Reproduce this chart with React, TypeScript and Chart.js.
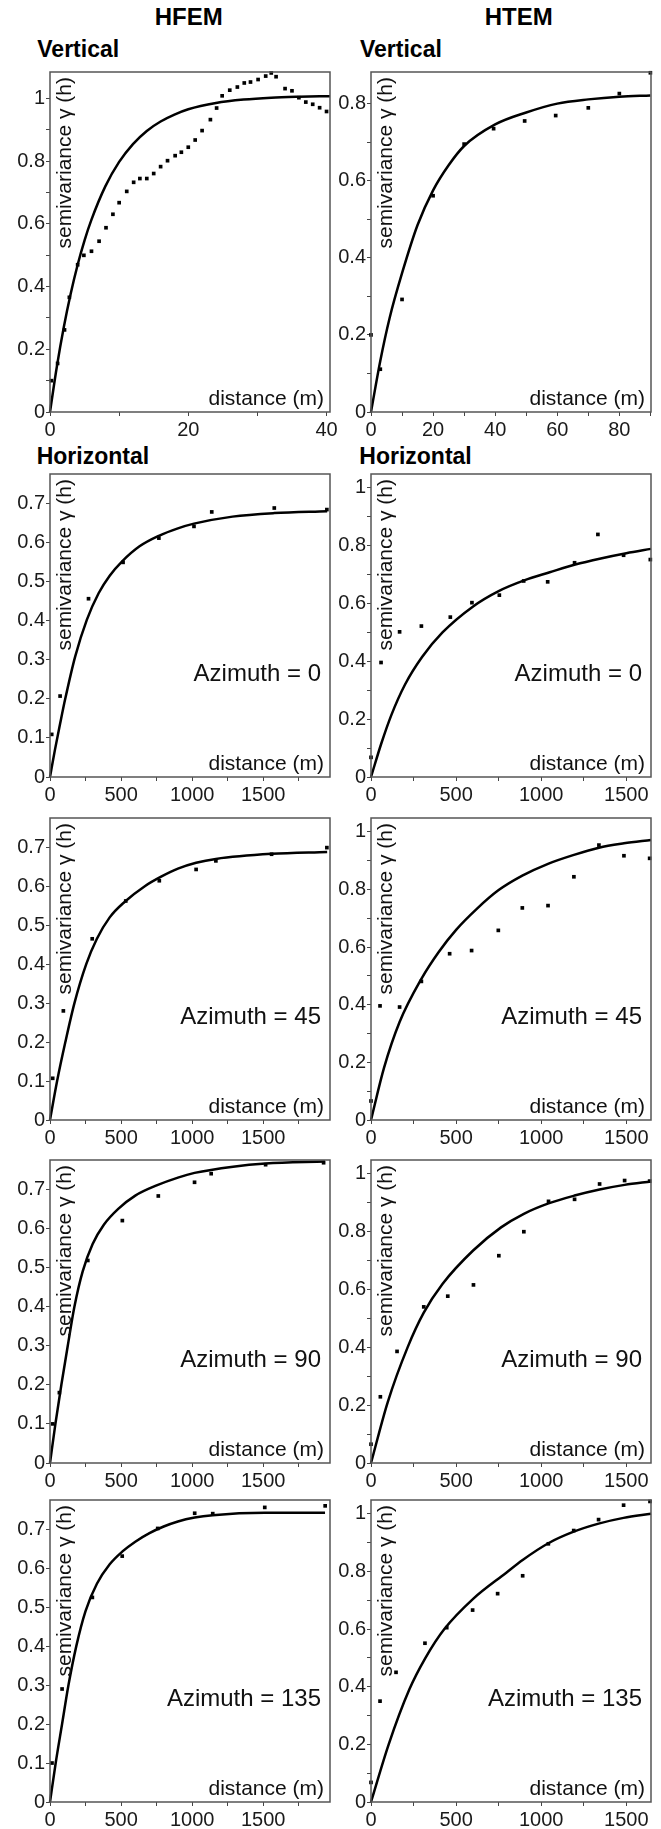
import React, { useEffect, useRef } from 'react';
import { Chart, registerables } from 'chart.js';
Chart.register(...registerables);

const FONT = "'Liberation Sans', Arial, Helvetica, sans-serif";

// ---------- HFEM, vertical ----------
const hfemVertLag = [0.2, 1.1, 2.1, 2.8, 4.0, 4.9, 6.0, 7.1, 8.1, 9.1, 10.0, 11.1, 12.1, 13.0, 14.0, 15.0, 16.0, 17.0, 18.1, 19.0, 20.0, 21.0, 22.0, 23.2, 24.1, 24.9, 26.0, 27.1, 28.1, 29.0, 30.1, 31.2, 32.0, 32.7, 34.0, 35.0, 36.0, 37.0, 38.0, 39.0, 40.0];
const hfemVertGamma = [0.10, 0.155, 0.262, 0.366, 0.47, 0.50, 0.513, 0.545, 0.588, 0.631, 0.668, 0.704, 0.733, 0.745, 0.745, 0.761, 0.783, 0.802, 0.818, 0.829, 0.845, 0.868, 0.898, 0.933, 0.970, 1.009, 1.027, 1.037, 1.05, 1.053, 1.061, 1.072, 1.082, 1.07, 1.032, 1.025, 1.003, 0.989, 0.982, 0.971, 0.959];
const hfemVertModelLag = [0, 1, 2, 3, 4, 5, 6, 8, 10, 12, 14, 16, 18, 20, 24, 28, 32, 36, 40.5];
const hfemVertModel = [0, 0.146, 0.271, 0.378, 0.47, 0.548, 0.614, 0.72, 0.798, 0.855, 0.897, 0.927, 0.949, 0.966, 0.986, 0.997, 1.003, 1.006, 1.008];

// ---------- HTEM, vertical ----------
const htemVertLag = [0, 3, 10, 20, 30, 39.5, 49.5, 59.5, 70, 80, 90];
const htemVertGamma = [0.2, 0.111, 0.292, 0.561, 0.695, 0.735, 0.755, 0.769, 0.789, 0.826, 0.88];
const htemVertModelLag = [0, 3, 6, 10, 15, 20, 25, 30, 40, 50, 60, 70, 80, 90];
const htemVertModel = [0, 0.133, 0.244, 0.36, 0.485, 0.575, 0.64, 0.69, 0.746, 0.777, 0.8, 0.811, 0.818, 0.821];

// ---------- HFEM, horizontal ----------
const hfemAz0Lag = [12, 71, 271, 514, 766, 1013, 1138, 1578, 1948];
const hfemAz0Gamma = [0.109, 0.207, 0.456, 0.549, 0.611, 0.641, 0.678, 0.688, 0.684];
const hfemAz0ModelLag = [0, 35, 71, 106, 177, 259, 342, 420, 506, 630, 766, 900, 1013, 1284, 1578, 1950];
const hfemAz0Model = [0, 0.07, 0.136, 0.198, 0.308, 0.402, 0.47, 0.515, 0.551, 0.59, 0.617, 0.636, 0.648, 0.666, 0.675, 0.68];

const hfemAz45Lag = [19, 94, 297, 533, 769, 1028, 1167, 1559, 1948];
const hfemAz45Gamma = [0.107, 0.28, 0.465, 0.562, 0.614, 0.643, 0.665, 0.682, 0.699];
const hfemAz45ModelLag = [0, 50, 108, 172, 255, 330, 420, 526, 667, 785, 900, 1028, 1167, 1559, 1950];
const hfemAz45Model = [0, 0.1, 0.2, 0.3, 0.4, 0.465, 0.52, 0.56, 0.6, 0.625, 0.645, 0.66, 0.67, 0.683, 0.688];

const hfemAz90Lag = [19, 66, 266, 509, 762, 1017, 1134, 1517, 1925];
const hfemAz90Gamma = [0.1, 0.18, 0.518, 0.62, 0.683, 0.718, 0.74, 0.763, 0.768];
const hfemAz90ModelLag = [0, 38, 80, 125, 172, 230, 300, 380, 480, 600, 750, 900, 1017, 1288, 1517, 1935];
const hfemAz90Model = [0, 0.1, 0.2, 0.3, 0.4, 0.49, 0.56, 0.61, 0.65, 0.684, 0.71, 0.73, 0.742, 0.758, 0.766, 0.771];

const hfemAz135Lag = [14, 85, 298, 508, 758, 1018, 1145, 1511, 1936];
const hfemAz135Gamma = [0.1, 0.29, 0.525, 0.631, 0.702, 0.741, 0.74, 0.756, 0.76];
const hfemAz135ModelLag = [0, 40, 85, 130, 185, 250, 330, 420, 510, 600, 700, 800, 900, 1018, 1145, 1511, 1935];
const hfemAz135Model = [0, 0.1, 0.2, 0.3, 0.4, 0.49, 0.56, 0.61, 0.643, 0.668, 0.69, 0.707, 0.72, 0.73, 0.736, 0.742, 0.742];

// ---------- HTEM, horizontal ----------
const htemAz0Lag = [0, 59, 168, 296, 466, 593, 754, 897, 1038, 1196, 1333, 1484, 1641];
const htemAz0Gamma = [0.068, 0.396, 0.502, 0.522, 0.553, 0.603, 0.629, 0.678, 0.675, 0.741, 0.839, 0.767, 0.752];
const htemAz0ModelLag = [0, 60, 120, 200, 300, 420, 600, 750, 900, 1050, 1200, 1350, 1500, 1645];
const htemAz0Model = [0, 0.115, 0.215, 0.32, 0.415, 0.5, 0.59, 0.643, 0.68, 0.708, 0.735, 0.756, 0.774, 0.789];

const htemAz45Lag = [0, 53, 168, 296, 462, 591, 748, 889, 1040, 1192, 1339, 1486, 1637];
const htemAz45Gamma = [0.066, 0.396, 0.392, 0.481, 0.577, 0.588, 0.658, 0.736, 0.744, 0.844, 0.954, 0.917, 0.908];
const htemAz45ModelLag = [0, 76, 168, 296, 400, 500, 620, 748, 889, 1040, 1192, 1339, 1486, 1645];
const htemAz45Model = [0, 0.18, 0.34, 0.49, 0.585, 0.66, 0.732, 0.797, 0.848, 0.889, 0.92, 0.945, 0.96, 0.972];

const htemAz90Lag = [0, 55, 153, 310, 451, 602, 751, 898, 1043, 1196, 1343, 1490, 1637];
const htemAz90Gamma = [0.065, 0.229, 0.386, 0.54, 0.577, 0.616, 0.717, 0.80, 0.905, 0.912, 0.965, 0.977, 0.975];
const htemAz90ModelLag = [0, 98, 215, 310, 421, 600, 764, 898, 1043, 1196, 1343, 1490, 1645];
const htemAz90Model = [0, 0.21, 0.4, 0.52, 0.62, 0.735, 0.815, 0.862, 0.898, 0.925, 0.946, 0.962, 0.974];

const htemAz135Lag = [0, 53, 147, 317, 445, 597, 744, 891, 1042, 1191, 1337, 1484, 1639];
const htemAz135Gamma = [0.068, 0.35, 0.45, 0.551, 0.605, 0.666, 0.723, 0.785, 0.896, 0.942, 0.98, 1.03, 1.043];
const htemAz135ModelLag = [0, 104, 225, 320, 431, 600, 793, 891, 1042, 1191, 1337, 1484, 1645];
const htemAz135Model = [0, 0.2, 0.39, 0.5, 0.6, 0.705, 0.795, 0.84, 0.898, 0.938, 0.966, 0.986, 1.0];

// ---------- tick values ----------
const hfemVertXTicks = [0, 10, 20, 30, 40];
const htemVertXTicks = [0, 10, 20, 30, 40, 50, 60, 70, 80, 90];
const horizXTicks = [0, 250, 500, 750, 1000, 1250, 1500, 1750];
const hfemVertYTicks = [0, 0.1, 0.2, 0.3, 0.4, 0.5, 0.6, 0.7, 0.8, 0.9, 1.0];
const htemVertYTicks = [0, 0.1, 0.2, 0.3, 0.4, 0.5, 0.6, 0.7, 0.8];
const hfemHorizYTicks = [0, 0.1, 0.2, 0.3, 0.4, 0.5, 0.6, 0.7];
const htemHorizYTicks = [0, 0.1, 0.2, 0.3, 0.4, 0.5, 0.6, 0.7, 0.8, 0.9, 1.0];

const yLabel = 'semivariance \u03b3 (h)';
const xLabel = 'distance (m)';

type Spec = {
  left: number; top: number; w: number; h: number;
  xMax: number; xTicks: number[]; xMajor: number;
  yMax: number; yTicks: number[]; yMajor: number;
  lag: number[]; gamma: number[]; mLag: number[]; model: number[];
  note?: string;
};

const LCOL = 50, RCOL = 371, BOXW = 280;
const ROWS = [
  { top: 72, h: 340 },
  { top: 474, h: 303 },
  { top: 818, h: 302 },
  { top: 1160, h: 303 },
  { top: 1500, h: 302 },
];

const hfemH = { xMax: 1970, xTicks: horizXTicks, xMajor: 500, yMax: 0.775, yTicks: hfemHorizYTicks, yMajor: 0.1 };
const htemH = { xMax: 1645, xTicks: horizXTicks, xMajor: 500, yMax: 1.048, yTicks: htemHorizYTicks, yMajor: 0.2 };

const SPECS: Spec[] = [
  { left: LCOL, top: ROWS[0].top, w: BOXW, h: ROWS[0].h, xMax: 40.5, xTicks: hfemVertXTicks, xMajor: 20, yMax: 1.085, yTicks: hfemVertYTicks, yMajor: 0.2, lag: hfemVertLag, gamma: hfemVertGamma, mLag: hfemVertModelLag, model: hfemVertModel },
  { left: RCOL, top: ROWS[0].top, w: BOXW, h: ROWS[0].h, xMax: 90.2, xTicks: htemVertXTicks, xMajor: 20, yMax: 0.882, yTicks: htemVertYTicks, yMajor: 0.2, lag: htemVertLag, gamma: htemVertGamma, mLag: htemVertModelLag, model: htemVertModel },
  { left: LCOL, top: ROWS[1].top, w: BOXW, h: ROWS[1].h, ...hfemH, lag: hfemAz0Lag, gamma: hfemAz0Gamma, mLag: hfemAz0ModelLag, model: hfemAz0Model, note: 'Azimuth = 0' },
  { left: RCOL, top: ROWS[1].top, w: BOXW, h: ROWS[1].h, ...htemH, lag: htemAz0Lag, gamma: htemAz0Gamma, mLag: htemAz0ModelLag, model: htemAz0Model, note: 'Azimuth = 0' },
  { left: LCOL, top: ROWS[2].top, w: BOXW, h: ROWS[2].h, ...hfemH, lag: hfemAz45Lag, gamma: hfemAz45Gamma, mLag: hfemAz45ModelLag, model: hfemAz45Model, note: 'Azimuth = 45' },
  { left: RCOL, top: ROWS[2].top, w: BOXW, h: ROWS[2].h, ...htemH, lag: htemAz45Lag, gamma: htemAz45Gamma, mLag: htemAz45ModelLag, model: htemAz45Model, note: 'Azimuth = 45' },
  { left: LCOL, top: ROWS[3].top, w: BOXW, h: ROWS[3].h, ...hfemH, lag: hfemAz90Lag, gamma: hfemAz90Gamma, mLag: hfemAz90ModelLag, model: hfemAz90Model, note: 'Azimuth = 90' },
  { left: RCOL, top: ROWS[3].top, w: BOXW, h: ROWS[3].h, ...htemH, lag: htemAz90Lag, gamma: htemAz90Gamma, mLag: htemAz90ModelLag, model: htemAz90Model, note: 'Azimuth = 90' },
  { left: LCOL, top: ROWS[4].top, w: BOXW, h: ROWS[4].h, ...hfemH, lag: hfemAz135Lag, gamma: hfemAz135Gamma, mLag: hfemAz135ModelLag, model: hfemAz135Model, note: 'Azimuth = 135' },
  { left: RCOL, top: ROWS[4].top, w: BOXW, h: ROWS[4].h, ...htemH, lag: htemAz135Lag, gamma: htemAz135Gamma, mLag: htemAz135ModelLag, model: htemAz135Model, note: 'Azimuth = 135' },
];

const LW = 50, PT = 8, PR = 9, HX = 27;

function isMultiple(v: number, m: number) {
  const r = v / m;
  return Math.abs(r - Math.round(r)) < 1e-6;
}

function Panel({ spec }: { spec: Spec }) {
  const ref = useRef<HTMLCanvasElement | null>(null);
  useEffect(() => {
    const canvas = ref.current;
    if (!canvas) return;
    const decor = {
      id: 'panelDecor',
      afterDraw(chart: any) {
        const { left, top, right, bottom } = chart.chartArea;
        const ctx = chart.ctx;
        ctx.save();
        ctx.strokeStyle = '#555';
        ctx.lineWidth = 1.5;
        ctx.strokeRect(left, top, right - left, bottom - top);
        ctx.fillStyle = '#111';
        ctx.save();
        ctx.translate(left + 21, top + 5);
        ctx.rotate(-Math.PI / 2);
        ctx.font = `21px ${FONT}`;
        ctx.textAlign = 'right';
        ctx.textBaseline = 'alphabetic';
        ctx.fillText(yLabel, 0, 0);
        ctx.restore();
        ctx.font = `21px ${FONT}`;
        ctx.textAlign = 'right';
        ctx.textBaseline = 'alphabetic';
        ctx.fillText(xLabel, right - 6, bottom - 7);
        if (spec.note) {
          ctx.font = `24px ${FONT}`;
          ctx.fillText(spec.note, right - 9, bottom - 96);
        }
        ctx.restore();
      },
    };
    const tickFont = { family: FONT, size: 20 };
    const chart = new Chart(canvas, {
      type: 'line',
      data: {
        datasets: [
          {
            data: spec.lag.map((x, i) => ({ x, y: spec.gamma[i] })),
            showLine: false,
            pointStyle: 'rect',
            pointRadius: 2.6,
            pointBackgroundColor: '#000',
            pointBorderColor: '#000',
            pointBorderWidth: 0,
            borderWidth: 0,
            clip: 4,
          },
          {
            data: spec.mLag.map((x, i) => ({ x, y: spec.model[i] })),
            borderColor: '#000',
            borderWidth: 2.5,
            pointRadius: 0,
            cubicInterpolationMode: 'monotone',
            fill: false,
            clip: 4,
          },
        ],
      } as any,
      options: {
        responsive: false,
        animation: false,
        devicePixelRatio: 1,
        events: [],
        layout: { padding: { top: PT, right: PR, left: 0, bottom: 0 } },
        plugins: { legend: { display: false }, tooltip: { enabled: false } },
        scales: {
          x: {
            type: 'linear',
            min: 0,
            max: spec.xMax,
            border: { display: false },
            grid: { drawOnChartArea: false, drawTicks: true, tickLength: 4, color: '#444', lineWidth: 1 },
            afterBuildTicks: (s: any) => {
              s.ticks = spec.xTicks.map((v) => ({ value: v }));
            },
            ticks: {
              autoSkip: false,
              maxRotation: 0,
              minRotation: 0,
              padding: 2,
              color: '#1a1a1a',
              font: tickFont,
              callback: (v: any) => (isMultiple(Number(v), spec.xMajor) ? String(Math.round(Number(v))) : ''),
            },
            afterFit: (s: any) => {
              s.height = HX;
              s.paddingLeft = 0;
              s.paddingRight = 0;
            },
          },
          y: {
            type: 'linear',
            min: 0,
            max: spec.yMax,
            border: { display: false },
            grid: { drawOnChartArea: false, drawTicks: true, tickLength: 4, color: '#444', lineWidth: 1 },
            afterBuildTicks: (s: any) => {
              s.ticks = spec.yTicks.map((v) => ({ value: v }));
            },
            ticks: {
              autoSkip: false,
              padding: 1,
              color: '#1a1a1a',
              font: tickFont,
              callback: (v: any) => (isMultiple(Number(v), spec.yMajor) ? String(Math.round(Number(v) * 10) / 10) : ''),
            },
            afterFit: (s: any) => {
              s.width = LW;
              s.paddingTop = 0;
              s.paddingBottom = 0;
            },
          },
        },
      } as any,
      plugins: [decor],
    });
    return () => chart.destroy();
  }, [spec]);
  const cw = spec.w + LW + PR;
  const ch = spec.h + PT + HX;
  return (
    <canvas
      ref={ref}
      width={cw}
      height={ch}
      style={{ position: 'absolute', left: spec.left - LW, top: spec.top - PT, width: cw, height: ch }}
    />
  );
}

function Title({ text, x, baseline, size, center }: { text: string; x: number; baseline: number; size: number; center?: boolean }) {
  return (
    <div
      style={{
        position: 'absolute',
        left: x,
        top: baseline - 0.8465 * size,
        transform: center ? 'translateX(-50%)' : undefined,
        font: `bold ${size}px ${FONT}`,
        lineHeight: `${size}px`,
        whiteSpace: 'nowrap',
        color: '#000',
      }}
    >
      {text}
    </div>
  );
}

export default function App() {
  return (
    <div style={{ position: 'absolute', left: 0, top: 0, width: 661, height: 1829, overflow: 'hidden', background: '#fff' }}>
      <Title text="HFEM" x={188.7} baseline={25.7} size={24} center />
      <Title text="HTEM" x={518.7} baseline={25.7} size={24} center />
      <Title text="Vertical" x={37.3} baseline={57.3} size={23} />
      <Title text="Vertical" x={360} baseline={57.3} size={23} />
      <Title text="Horizontal" x={36.7} baseline={464} size={23} />
      <Title text="Horizontal" x={359.3} baseline={464} size={23} />
      {SPECS.map((s, i) => (
        <Panel key={i} spec={s} />
      ))}
    </div>
  );
}
